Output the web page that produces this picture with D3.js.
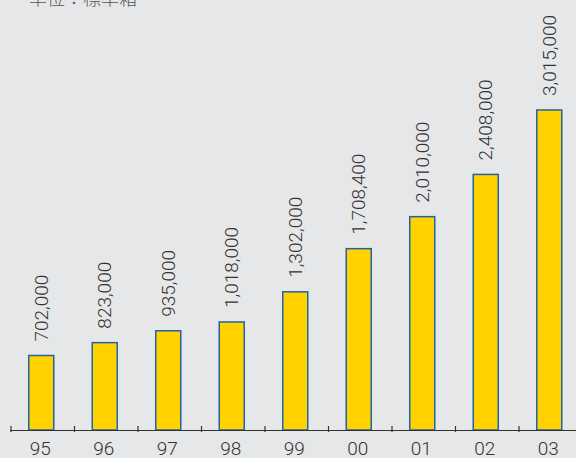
<!DOCTYPE html>
<html>
<head>
<meta charset="utf-8">
<script src="https://cdn.jsdelivr.net/npm/d3@7"></script>
<style>
  body { margin: 0; background: #e6e7e8; }
  svg { display: block; }
</style>
</head>
<body>
<div id="chart"></div>
<script>
// years and shipments (standard cases)
var years = ["95", "96", "97", "98", "99", "00", "01", "02", "03"];
var values = [702000, 823000, 935000, 1018000, 1302000, 1708400, 2010000, 2408000, 3015000];
var labels = ["702,000", "823,000", "935,000", "1,018,000", "1,302,000", "1,708,400", "2,010,000", "2,408,000", "3,015,000"];
var unitText = "単位：標準箱";

var width = 576, height = 458;
var baseY = 430;

var svg = d3.select("#chart").append("svg")
  .attr("width", width)
  .attr("height", height);

svg.append("rect")
  .attr("width", width)
  .attr("height", height)
  .attr("fill", "#e6e7e8");

// x band scale, ticks at band edges
var x = d3.scaleBand()
  .domain(years)
  .range([10, 581.5])
  .padding(0);

var y = d3.scaleLinear()
  .domain([0, 3015000])
  .range([baseY, 110]);

var barW = 25;

// unit label, clipped at the top like the source
svg.append("text")
  .attr("x", 29)
  .attr("y", 5)
  .attr("font-family", "'Noto Sans CJK JP', sans-serif")
  .attr("font-weight", 300)
  .attr("font-size", 18)
  .attr("fill", "#555")
  .text(unitText);

// bars
svg.append("g")
  .selectAll("rect")
  .data(values)
  .enter().append("rect")
  .attr("x", function (d, i) { return x(years[i]) + x.bandwidth() / 2 - barW / 2 - 0.5; })
  .attr("y", function (d) { return y(d); })
  .attr("width", barW)
  .attr("height", function (d) { return baseY - y(d); })
  .attr("fill", "#ffd200")
  .attr("stroke", "#1f63a8")
  .attr("stroke-width", 1.5);

// value labels (rotated)
svg.append("g")
  .selectAll("text")
  .data(values)
  .enter().append("text")
  .attr("transform", function (d, i) {
    var cx = x(years[i]) + x.bandwidth() / 2 - 0.5 + 6.5;
    var cy = y(d) - 14;
    return "translate(" + cx + "," + cy + ") rotate(-90)";
  })
  .attr("font-family", "Roboto, 'Liberation Sans', sans-serif")
  .attr("font-weight", 300)
  .attr("font-size", 19)
  .attr("fill", "#333")
  .text(function (d, i) { return labels[i]; });

// axis line
svg.append("line")
  .attr("x1", 10)
  .attr("x2", width)
  .attr("y1", baseY + 0.5)
  .attr("y2", baseY + 0.5)
  .attr("stroke", "#333")
  .attr("stroke-width", 1.2);

// ticks at band edges
svg.append("g")
  .selectAll("line")
  .data(years)
  .enter().append("line")
  .attr("x1", function (d) { return x(d) + 1; })
  .attr("x2", function (d) { return x(d) + 1; })
  .attr("y1", baseY - 4)
  .attr("y2", baseY + 2)
  .attr("stroke", "#333")
  .attr("stroke-width", 1.2);

// year labels
svg.append("g")
  .selectAll("text")
  .data(years)
  .enter().append("text")
  .attr("x", function (d) { return x(d) + x.bandwidth() / 2 - 1.5; })
  .attr("y", 455)
  .attr("text-anchor", "middle")
  .attr("font-family", "Roboto, 'Liberation Sans', sans-serif")
  .attr("font-weight", 300)
  .attr("font-size", 19)
  .attr("fill", "#333")
  .text(function (d) { return d; });
</script>
</body>
</html>
